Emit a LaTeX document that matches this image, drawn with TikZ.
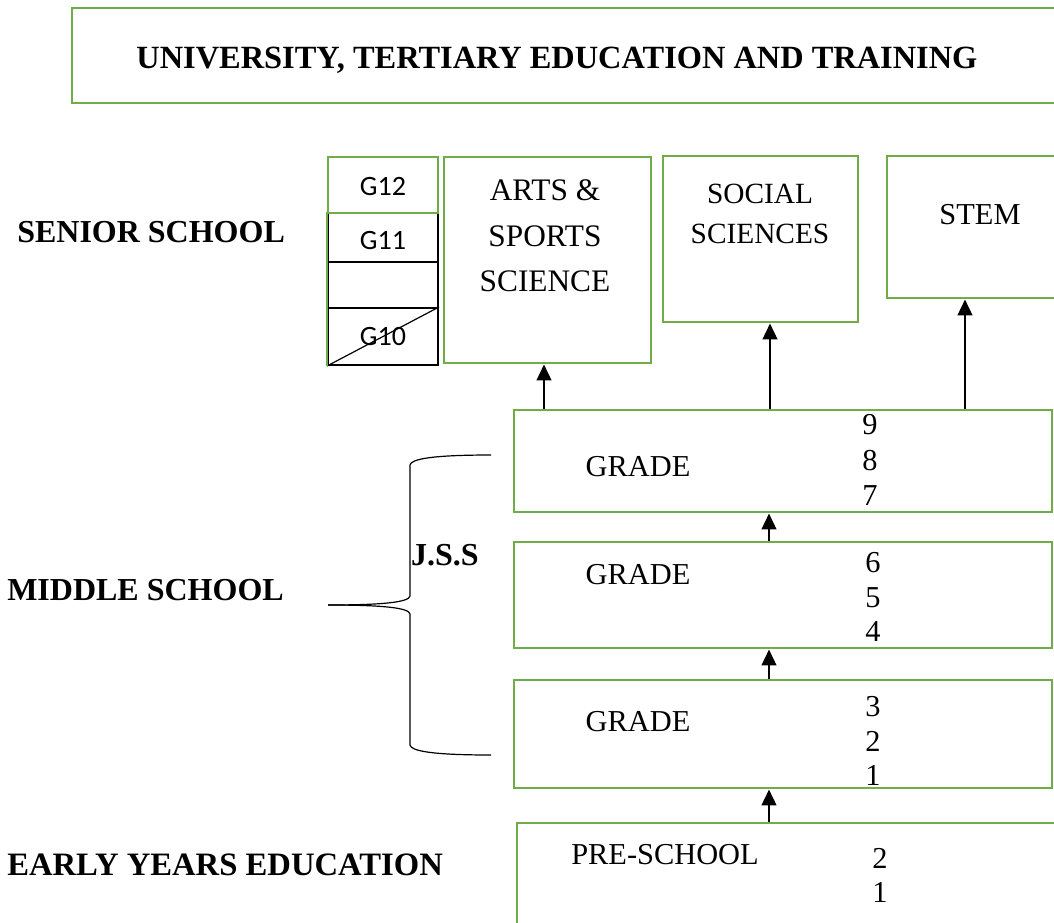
\documentclass[tikz,border=0pt]{standalone}
\usepackage{fontspec}
\setmainfont{Liberation Serif}
\newfontfamily\calfont{Carlito}
\usetikzlibrary{fit,arrows.meta}
\definecolor{boxgreen}{HTML}{70AD47}
\tikzset{
  gbox/.style={draw=boxgreen,line width=2.2pt,inner sep=0pt},
  cell/.style={draw=black,line width=1.5pt,inner sep=0pt},
  arr/.style={draw=black,line width=1.8pt,-{Triangle[width=11pt,length=12pt]}},
  lbl/.style={font=\bfseries\fontsize{24}{28}\selectfont,inner sep=0pt},
  txt/.style={font=\fontsize{22.8}{27}\selectfont,inner sep=0pt,align=center},
  gtxt/.style={font=\calfont\fontsize{21}{25}\selectfont,inner sep=0pt},
  brace/.style={draw=black,line width=0.9pt},
}
\begin{document}
\begin{tikzpicture}[x=0.75pt,y=-0.75pt]
\useasboundingbox (0,0) rectangle (1054,922);
\clip (0,0) rectangle (1054,922);

% title
\node[gbox,fit={(72,8) (1070,103)}] (title) {};
\node[lbl,font=\bfseries\fontsize{24.3}{28}\selectfont] (titletxt) at (557,60) {UNIVERSITY, TERTIARY EDUCATION AND TRAINING};

% left labels
\node[lbl,anchor=west] (senior) at (17,232) {SENIOR SCHOOL};
\node[lbl,anchor=west] (middle) at (7,590) {MIDDLE SCHOOL};
\node[lbl,anchor=west,font=\bfseries\fontsize{24.5}{28}\selectfont] (early) at (7,865) {EARLY YEARS EDUCATION};
\node[lbl] (jss) at (445,555) {J.S.S};

% grade column G10-G12
\node[cell,fit={(328,213) (438,262)}] (g11) {};
\node[cell,fit={(328,262) (438,308)}] (gmid) {};
\node[cell,fit={(328,308) (438,365)}] (g10) {};
\draw[draw=black,line width=0.9pt] (g10.south west) -- (g10.north east);
\draw[draw=boxgreen,line width=2.2pt] (g11.north west) -- (g10.south west);
\node[gbox,fit={(328,157) (438,213)}] (g12) {};
\node[gtxt] (g12t) at (383,187) {G12};
\node[gtxt] (g11t) at (383,241) {G11};
\node[gtxt] (g10t) at (383,337) {G10};

% pathway boxes
\node[gbox,fit={(444,157) (651,363)}] (arts) {};
\node[txt,font=\fontsize{23.5}{34}\selectfont] (artst) at (545,236) {ARTS \&\\SPORTS\\SCIENCE};
\node[gbox,fit={(663,156) (858,322)}] (social) {};
\node[txt,font=\fontsize{22}{30}\selectfont] (socialt) at (760,214) {SOCIAL\\SCIENCES};
\node[gbox,fit={(887,156) (1070,298)}] (stem) {};
\node[txt] (stemt) at (980,215) {STEM};

% grade boxes
\node[gbox,fit={(514,410) (1052,512)}] (g97) {};
\node[txt] (g97a) at (638,467) {GRADE};
\node[txt,font=\fontsize{22.8}{26.5}\selectfont] (g97b) at (870,460) {9\\8\\7};

\node[gbox,fit={(514,542) (1052,648)}] (g64) {};
\node[txt] (g64a) at (638,575) {GRADE};
\node[txt,font=\fontsize{22.8}{26}\selectfont] (g64b) at (873,597) {6\\5\\4};

\node[gbox,fit={(514,680) (1052,788)}] (g31) {};
\node[txt] (g31a) at (638,722) {GRADE};
\node[txt,font=\fontsize{22.8}{26}\selectfont] (g31b) at (873,741) {3\\2\\1};

\node[gbox,fit={(517,823) (1070,940)}] (pre) {};
\node[txt] (prea) at (665,855) {PRE-SCHOOL};
\node[txt,font=\fontsize{22.8}{25.5}\selectfont] (preb) at (880,875) {2\\1};

% arrows
\coordinate (xa) at (544,0);
\coordinate (xs) at (770,0);
\coordinate (xt) at (965,0);
\coordinate (xm) at (769,0);
\draw[arr] (g97.north -| xa) -- (arts.south -| xa);
\draw[arr] (g97.north -| xs) -- (social.south -| xs);
\draw[arr] (g97.north -| xt) -- (stem.south -| xt);
\draw[arr] (g64.north -| xm) -- (g97.south -| xm);
\draw[arr] (g31.north -| xm) -- (g64.south -| xm);
\draw[arr] (pre.north -| xm) -- (g31.south -| xm);

% brace
\coordinate (bt) at (491,455);
\coordinate (bm) at (328,605);
\coordinate (bb) at (491,755);
\draw[brace] (bt) .. controls (432,455) and (411,459) .. (410,465) -- (410,596)
  .. controls (409,602) and (385,605) .. (bm);
\draw[brace] (bm) .. controls (385,605) and (409,608) .. (410,614) -- (410,745)
  .. controls (411,751) and (432,755) .. (bb);
\end{tikzpicture}
\end{document}
